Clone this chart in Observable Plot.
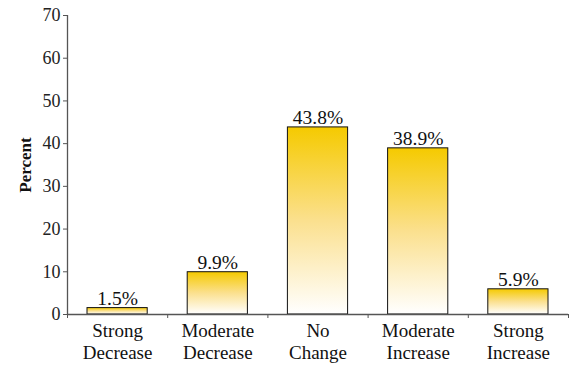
<!DOCTYPE html>
<html>
<head>
<meta charset="utf-8">
<script src="https://cdn.jsdelivr.net/npm/d3@7"></script>
<script src="https://cdn.jsdelivr.net/npm/@observablehq/plot@0.6"></script>
<style>
  html, body { margin: 0; padding: 0; background: #fff; }
  #chart { width: 570px; height: 366px; }
</style>
</head>
<body>
<div id="chart"></div>
<script>
const categories = ["Strong\nDecrease", "Moderate\nDecrease", "No\nChange", "Moderate\nIncrease", "Strong\nIncrease"];
const values = [1.5, 9.9, 43.8, 38.9, 5.9];
const valueLabels = ["1.5%", "9.9%", "43.8%", "38.9%", "5.9%"];
const yTicks = [0, 10, 20, 30, 40, 50, 60, 70];

const data = categories.map((c, i) => ({i, category: c, value: values[i], label: valueLabels[i]}));
const font = "'Liberation Serif', 'Times New Roman', serif";
const axisColor = "#555";

const chart = Plot.plot({
  width: 570,
  height: 366,
  marginLeft: 67,
  marginRight: 2,
  marginTop: 15,
  marginBottom: 52,
  style: {fontFamily: font, background: "#fff", color: "#111"},
  x: {type: "linear", domain: [0, categories.length], axis: null},
  y: {domain: [0, 70], axis: null},
  marks: [
    Plot.rectY(data, {
      x1: d => d.i, x2: d => d.i + 1, y1: 0, y2: "value",
      insetLeft: 20, insetRight: 20,
      fill: "url(#barGrad)", stroke: "#111", strokeWidth: 1
    }),
    Plot.axisY({ticks: yTicks, tickSize: 4, tickPadding: 3, label: null, fontSize: 18, stroke: axisColor, color: "#222"}),
    Plot.axisX({ticks: d3.range(0, categories.length + 1), tickSize: 4, tickFormat: () => "", label: null, stroke: axisColor}),
    Plot.ruleX([0], {stroke: axisColor, strokeWidth: 1.3}),
    Plot.ruleY([0], {stroke: axisColor, strokeWidth: 1.3}),
    Plot.text(data, {
      x: d => d.i + 0.5, y: "value", text: "label",
      lineAnchor: "bottom", dy: -3, fontSize: 19.5, fill: "#111"
    }),
    Plot.text(data, {
      x: d => d.i + 0.5, y: 0, text: "category",
      lineAnchor: "top", dy: 7, lineHeight: 1.15, fontSize: 19, fill: "#111"
    }),
    Plot.text(["Percent"], {
      frameAnchor: "left", textAnchor: "middle", dx: -42, rotate: -90,
      fontSize: 17, fontWeight: "bold", fill: "#111"
    })
  ]
});

const svg = d3.select(chart);
const defs = svg.insert("defs", ":first-child");
const grad = defs.append("linearGradient").attr("id", "barGrad")
  .attr("x1", 0).attr("y1", 0).attr("x2", 0).attr("y2", 1);
grad.append("stop").attr("offset", "0%").attr("stop-color", "#f5ca00");
grad.append("stop").attr("offset", "50%").attr("stop-color", "#fbe08e");
grad.append("stop").attr("offset", "100%").attr("stop-color", "#ffffff");

document.getElementById("chart").appendChild(chart);
</script>
</body>
</html>
